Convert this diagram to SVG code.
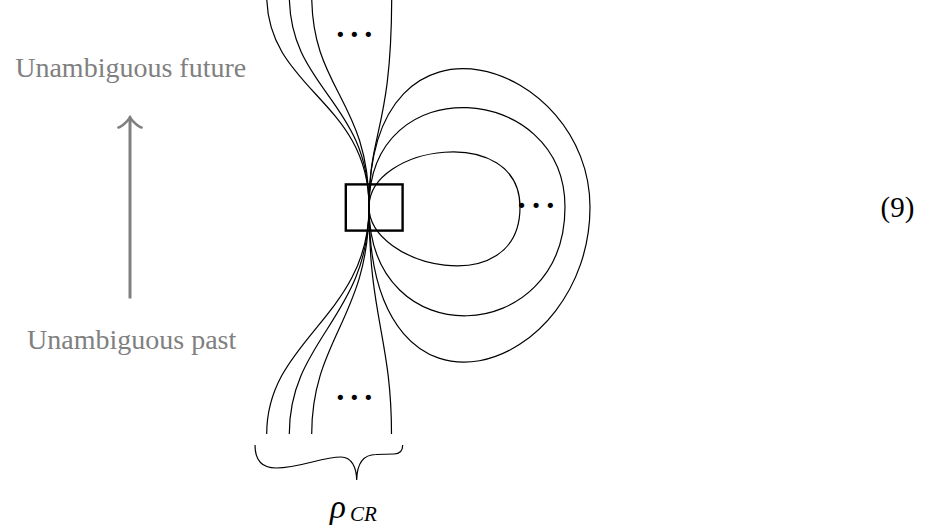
<svg xmlns="http://www.w3.org/2000/svg" width="930" height="528" viewBox="0 0 930 528">
<style>
.s{fill:none;stroke:#000;stroke-width:1.2}
.g{fill:#808080;font-family:"Liberation Serif",serif;font-size:28px;text-anchor:middle}
.d{fill:#000;font-family:"Liberation Serif",serif;font-size:32px;font-weight:bold;text-anchor:middle}
.n{fill:#000;font-family:"Liberation Serif",serif;font-size:29px;text-anchor:middle}
.m{fill:#000;font-family:"Liberation Serif",serif;font-style:italic}
</style>
<rect width="930" height="528" fill="#fff"/>
<g id="connectors">
  <path class="s" d="M266.7,-5 C266.7,90 369,100 369,207"/>
  <path class="s" d="M289.3,-5 C289.3,90 369,100 369,207"/>
  <path class="s" d="M311.7,-5 C311.7,90 369,100 369,207"/>
  <path class="s" d="M391.7,-5 C391.7,130 369,130 369,207"/>
  <path class="s" d="M266.7,434 C266.7,339 369,317 369,207"/>
  <path class="s" d="M289.3,434 C289.3,339 369,317 369,207"/>
  <path class="s" d="M311.7,434 C311.7,339 369,317 369,207"/>
  <path class="s" d="M391.5,434 C391.5,339 369,317 369,207"/>
  <path class="s" d="M369,207 C369,145 520,123 520,207 C520,302 369,267 369,207"/>
  <path class="s" d="M369,207 C369,67 565,82 565,207 C565,347 369,357 369,207"/>
  <path class="s" d="M369,207 C369,-13 590,62 590,207 C590,372 369,452 369,207"/>
</g>
<g id="box">
  <rect x="345.8" y="184.4" width="56.8" height="46.2" fill="none" stroke="#000" stroke-width="2.4"/>
</g>
<g id="dots">
  <text class="d" x="340.3 354.3 368.3" y="45.3">···</text>
  <text class="d" x="340.3 354.3 368.3" y="408.3">···</text>
  <text class="d" x="521.7 536 550.3" y="215.5">···</text>
</g>
<g id="brace">
  <path class="s" d="M255,445 C255,461 262,468 276,468 C300,468 322,457 341,457 C352,457 356.5,468 356.7,480 C357,466 362,454.5 376,454.5 L394,454 C400,454 402.7,450 402.7,445"/>
</g>
<g id="rho">
  <text class="m" x="330" y="518" font-size="33">ρ</text>
  <text class="m" x="350" y="521" font-size="21">CR</text>
</g>
<g id="future">
  <text class="g" x="130.7" y="76.5">Unambiguous future</text>
</g>
<g id="past">
  <text class="g" x="131.7" y="349">Unambiguous past</text>
</g>
<g id="arrow" fill="none" stroke="#808080">
  <line x1="130" y1="298.5" x2="130" y2="118" stroke-width="3"/>
  <path d="M118.4,127.5 C122.7,126.8 129.3,119 130,116.8 C130.7,119 137.3,126.8 141.6,127.5" stroke-width="2.6" stroke-linecap="round" stroke-linejoin="round"/>
</g>
<g id="eqnum">
  <text class="n" x="897.5" y="217">(9)</text>
</g>
</svg>
